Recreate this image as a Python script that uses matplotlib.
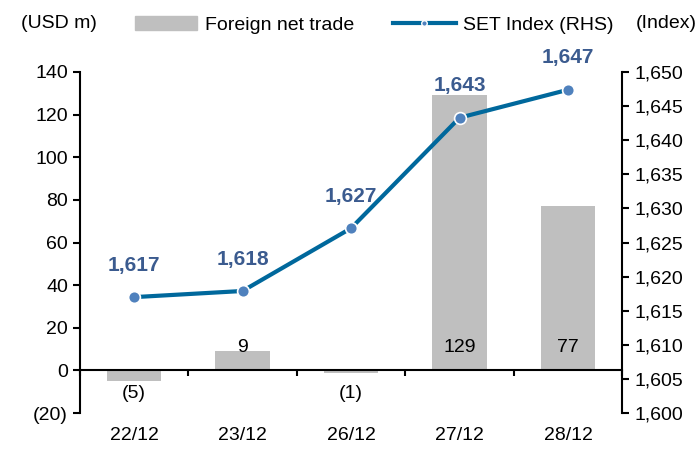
import matplotlib

matplotlib.use("Agg")
import matplotlib.pyplot as plt
import matplotlib.transforms as mtransforms
import numpy as np
from matplotlib.lines import Line2D
from matplotlib.patches import Patch

plt.rcParams["font.family"] = ["Liberation Sans Narrow", "Liberation Sans", "DejaVu Sans"]

# data
dates = ["22/12", "23/12", "26/12", "27/12", "28/12"]
foreign_net = [-5, 9, -1, 129, 77]
set_index = [1617.0, 1617.9, 1627.1, 1643.3, 1647.4]

bar_color = "#bfbfbf"
line_color = "#00689c"
marker_color = "#4f81bd"
label_color = "#3b5b8f"
fs = 14

x = np.arange(len(dates))

fig = plt.figure(figsize=(7, 4.5), dpi=100)
ax = fig.add_axes([0.114, 0.082, 0.775, 0.758])
ax2 = ax.twinx()

ax.bar(x, foreign_net, width=0.5, color=bar_color, zorder=1)
ax.set_xlim(-0.5, len(dates) - 0.5)
ax.set_ylim(-20, 140)
ax.set_yticks(range(-20, 141, 20))
ax.set_yticklabels(["(20)"] + [str(v) for v in range(0, 141, 20)])

# bar value labels sit just above / below the zero line
for xi, v in zip(x, foreign_net):
    txt = f"({abs(v)})" if v < 0 else f"{v}"
    ax.text(xi, -11 if v < 0 else 11, txt, ha="center", va="center",
            fontsize=fs, color="black", zorder=5)

# x axis drawn at zero, ticks between categories
ax.spines["bottom"].set_position(("data", 0))
ax.spines["bottom"].set_zorder(4)
ax.set_xticks(np.arange(-0.5, len(dates), 1.0))
ax.set_xticklabels([])
ax.tick_params(axis="x", direction="out", length=4, width=1.5)
trans = mtransforms.blended_transform_factory(ax.transData, ax.transAxes)
for xi, d in zip(x, dates):
    ax.text(xi, -0.065, d, transform=trans, ha="center", va="center", fontsize=fs)

ax2.plot(x, set_index, color=line_color, lw=3, zorder=3,
         marker="o", markersize=8.5, markerfacecolor=marker_color,
         markeredgecolor="white", markeredgewidth=1.2)
ax2.set_ylim(1600, 1650)
ax2.set_yticks(range(1600, 1651, 5))
ax2.set_yticklabels([f"{v:,}" for v in range(1600, 1651, 5)])

for xi, v in zip(x, set_index):
    ax2.annotate(f"{v:,.0f}", (xi, v), xytext=(0, 23), textcoords="offset points",
                 ha="center", va="center", fontsize=15, fontweight="bold",
                 color=label_color)

for a in (ax, ax2):
    a.spines["top"].set_visible(False)
    a.tick_params(axis="y", labelsize=fs, direction="out", length=5, width=1.5)
    for s in a.spines.values():
        s.set_linewidth(1.5)
ax.spines["right"].set_visible(False)
ax2.spines["left"].set_visible(False)
ax2.spines["bottom"].set_visible(False)

fig.text(0.03, 0.948, "(USD m)", fontsize=fs, va="center", ha="left")
fig.text(0.995, 0.948, "(Index)", fontsize=fs, va="center", ha="right")

handles = [
    Patch(color=bar_color, label="Foreign net trade"),
    Line2D([0], [0], color=line_color, lw=3, marker="o", markersize=4,
           markerfacecolor=marker_color, markeredgecolor="white",
           label="SET Index (RHS)"),
]
fig.legend(handles=handles, loc="center", bbox_to_anchor=(0.535, 0.945), ncol=2,
           frameon=False, fontsize=fs, handlelength=3.2, columnspacing=2.0,
           handletextpad=0.4)

fig.savefig("out.png", dpi=100)
